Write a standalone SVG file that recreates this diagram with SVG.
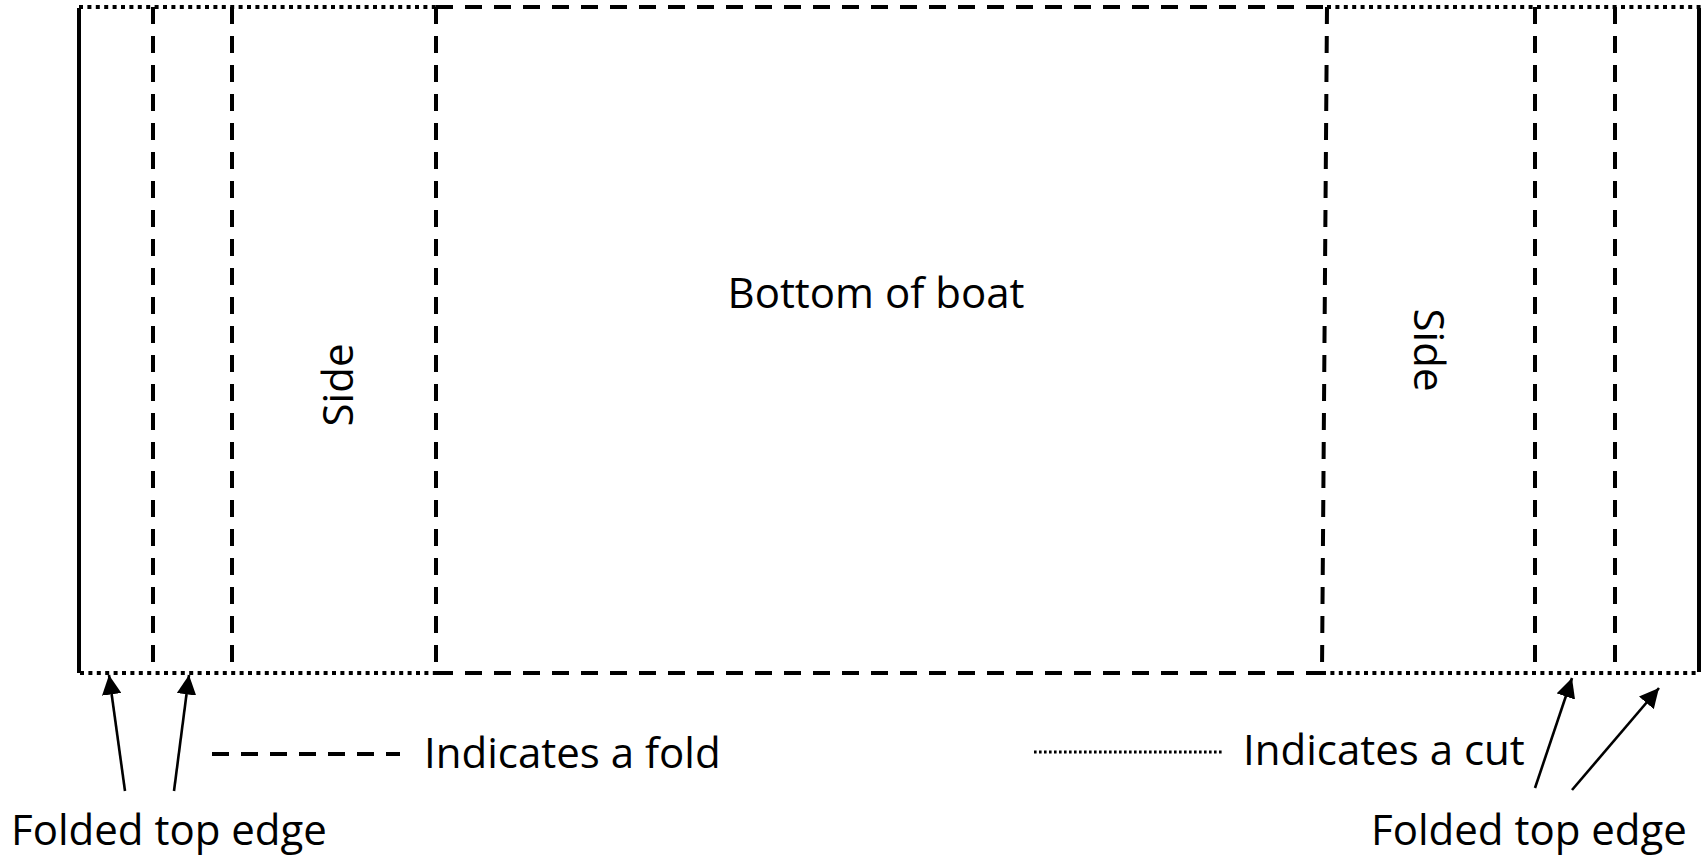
<svg xmlns="http://www.w3.org/2000/svg" width="1706" height="856" viewBox="0 0 1706 856">
<style>
  .solid{stroke:#000;stroke-width:4;fill:none}
  .fold{stroke:#000;stroke-width:4;stroke-dasharray:17 12;fill:none}
  .cut{stroke:#000;stroke-width:3.8;stroke-dasharray:4 4.4;fill:none}
  .cutthin{stroke:#000;stroke-width:3;stroke-dasharray:2.6 2.4;fill:none}
  .arrow{stroke:#000;stroke-width:2.6;fill:none;marker-end:url(#ah)}
  text{font-family:"Open Sans","Liberation Sans",sans-serif;font-size:42px;fill:#000}
</style>
<defs>
  <marker id="ah" viewBox="0 0 10 10" refX="10" refY="5" markerWidth="7.5" markerHeight="7.5" orient="auto" markerUnits="strokeWidth">
    <path d="M0,0 L10,5 L0,10 Z" fill="#000"/>
  </marker>
</defs>
<rect width="1706" height="856" fill="#fff"/>
<g id="sheet">
  <line class="solid" x1="79" y1="8" x2="79" y2="673"/>
  <line class="solid" x1="1699" y1="8" x2="1699" y2="672"/>
  <line class="cut" x1="79" y1="7" x2="436" y2="7"/>
  <line class="fold" x1="436" y1="7" x2="1327" y2="7"/>
  <line class="cut" x1="1327" y1="7" x2="1704" y2="7"/>
  <line class="cut" x1="80" y1="673" x2="436" y2="673"/>
  <line class="fold" x1="436" y1="673" x2="1322" y2="673"/>
  <line class="cut" x1="1322" y1="673" x2="1698" y2="673"/>
  <line class="fold" x1="153" y1="7" x2="153" y2="672"/>
  <line class="fold" x1="232" y1="7" x2="232" y2="672"/>
  <line class="fold" x1="436" y1="7" x2="436" y2="672"/>
  <line class="fold" x1="1327" y1="7" x2="1322" y2="672"/>
  <line class="fold" x1="1535" y1="7" x2="1535" y2="672"/>
  <line class="fold" x1="1615" y1="7" x2="1615" y2="672"/>
</g>
<g id="labels">
  <text x="876" y="308" text-anchor="middle">Bottom of boat</text>
  <text transform="translate(353,385) rotate(-90)" text-anchor="middle">Side</text>
  <text transform="translate(1414,350) rotate(90)" text-anchor="middle">Side</text>
</g>
<g id="legend">
  <line class="fold" x1="212" y1="754" x2="400" y2="754"/>
  <text x="424" y="768">Indicates a fold</text>
  <line class="cutthin" x1="1034" y1="752" x2="1224" y2="752"/>
  <text x="1243" y="765">Indicates a cut</text>
  <text x="11" y="845">Folded top edge</text>
  <text x="1371" y="845">Folded top edge</text>
</g>
<g id="connectors">
  <line class="arrow" x1="125" y1="791" x2="109" y2="675"/>
  <line class="arrow" x1="174" y1="791" x2="189" y2="675"/>
  <line class="arrow" x1="1535" y1="788" x2="1572" y2="678"/>
  <line class="arrow" x1="1572" y1="790" x2="1659" y2="688"/>
</g>
</svg>
